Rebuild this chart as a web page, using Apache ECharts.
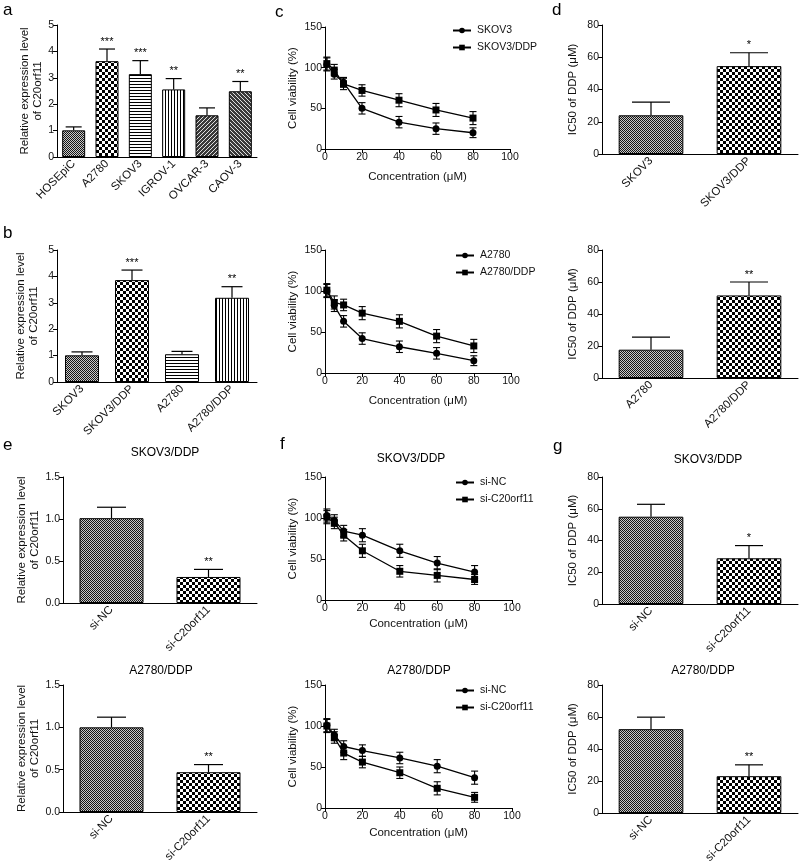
<!DOCTYPE html>
<html><head><meta charset="utf-8">
<script src="https://cdn.jsdelivr.net/npm/echarts@6/dist/echarts.min.js"></script>
<style>html,body{margin:0;padding:0;background:#fff}#c{width:800px;height:867px}</style>
</head><body><div id="c"></div><script>
// ---------------- data ----------------
const aCats = ['HOSEpiC', 'A2780', 'SKOV3', 'IGROV-1', 'OVCAR-3', 'CAOV-3'];
const aVals = [1.01, 3.63, 3.14, 2.56, 1.58, 2.49];
const aErrs = [0.13, 0.46, 0.51, 0.41, 0.28, 0.37];
const aStars = ['', '***', '***', '**', '', '**'];

const bCats = ['SKOV3', 'SKOV3/DDP', 'A2780', 'A2780/DDP'];
const bVals = [1.01, 3.86, 1.05, 3.19];
const bErrs = [0.13, 0.38, 0.11, 0.42];
const bStars = ['', '***', '', '**'];

const concX = [1, 5, 10, 20, 40, 60, 80];
const cSkov3 = [104, 92, 82, 50, 33, 25, 20];
const cSkov3Err = [8, 6, 6, 7, 7, 7, 6];
const cSkov3Ddp = [105, 97, 80, 72, 60, 48, 38];
const cSkov3DdpErr = [8, 7, 7, 7, 8, 8, 8];
const cA2780 = [100, 82, 63, 42, 32, 24, 15];
const cA2780Err = [8, 7, 7, 7, 7, 7, 6];
const cA2780Ddp = [101, 86, 83, 73, 63, 45, 33];
const cA2780DdpErr = [8, 8, 7, 8, 8, 8, 8];

const d1Cats = ['SKOV3', 'SKOV3/DDP'];
const d1Vals = [24, 54.5];
const d1Errs = [8.2, 8.3];
const d1Stars = ['', '*'];
const d2Cats = ['A2780', 'A2780/DDP'];
const d2Vals = [17.7, 51.6];
const d2Errs = [7.9, 8.4];
const d2Stars = ['', '**'];

const siCats = ['si-NC', 'si-C20orf11'];
const e1Vals = [1.01, 0.31];
const e1Errs = [0.13, 0.09];
const e1Stars = ['', '**'];
const e2Vals = [1.00, 0.47];
const e2Errs = [0.12, 0.09];
const e2Stars = ['', '**'];

const f1Nc = [103, 97, 84, 79, 60, 45, 34];
const f1NcErr = [8, 7, 7, 8, 8, 8, 8];
const f1Si = [101, 94, 79, 60, 35, 30, 25];
const f1SiErr = [8, 7, 7, 8, 7, 8, 6];
const f2Nc = [101, 89, 75, 70, 61, 51, 37];
const f2NcErr = [8, 7, 7, 7, 7, 8, 8];
const f2Si = [100, 86, 67, 56, 43, 24, 13];
const f2SiErr = [8, 7, 8, 7, 7, 8, 6];

const g1Vals = [55, 28.8];
const g1Errs = [7.8, 8];
const g1Stars = ['', '*'];
const g2Vals = [52.4, 23];
const g2Errs = [7.5, 7.1];
const g2Stars = ['', '**'];

// ---------------- styling helpers ----------------
const FONT = "'Liberation Sans', Arial, sans-serif";
const INK = '#111';

function makePattern(kind) {
  const c = document.createElement('canvas');
  let ctx;
  if (kind === 'fine') {
    c.width = 2; c.height = 2; ctx = c.getContext('2d');
    ctx.fillStyle = '#c8c8c8'; ctx.fillRect(0, 0, 2, 2);
    ctx.fillStyle = '#151515'; ctx.fillRect(0, 0, 1, 1); ctx.fillRect(1, 1, 1, 1);
  } else if (kind === 'coarse') {
    c.width = 6; c.height = 6; ctx = c.getContext('2d');
    ctx.fillStyle = '#fff'; ctx.fillRect(0, 0, 6, 6);
    ctx.fillStyle = '#000'; ctx.fillRect(0, 0, 3, 3); ctx.fillRect(3, 3, 3, 3);
  } else if (kind === 'hline') {
    c.width = 3; c.height = 3; ctx = c.getContext('2d');
    ctx.fillStyle = '#fff'; ctx.fillRect(0, 0, 3, 3);
    ctx.fillStyle = '#000'; ctx.fillRect(0, 0, 3, 1);
  } else if (kind === 'vline') {
    c.width = 3; c.height = 3; ctx = c.getContext('2d');
    ctx.fillStyle = '#fff'; ctx.fillRect(0, 0, 3, 3);
    ctx.fillStyle = '#000'; ctx.fillRect(0, 0, 1, 3);
  } else {
    c.width = 4; c.height = 4; ctx = c.getContext('2d');
    ctx.fillStyle = '#3a3a3a'; ctx.fillRect(0, 0, 4, 4);
    ctx.fillStyle = '#e0e0e0';
    for (let i = 0; i < 4; i++) ctx.fillRect(kind === 'diag1' ? 3 - i : i, i, 1, 1);
  }
  return { image: c, repeat: 'repeat' };
}
const PAT = {};
['fine', 'coarse', 'hline', 'vline', 'diag1', 'diag2'].forEach(k => PAT[k] = makePattern(k));

const grids = [], xAxes = [], yAxes = [], series = [], legends = [], graphics = [];

function yAxisBase(i, min, max, interval, name, gap, fmt) {
  return {
    gridIndex: i, type: 'value', min: min, max: max, interval: interval,
    axisLine: { show: true, lineStyle: { color: '#000', width: 1 } },
    axisTick: { show: true, length: 4, lineStyle: { color: '#000' } },
    splitLine: { show: false },
    axisLabel: { fontSize: 10.5, color: INK, margin: 3, fontFamily: FONT, formatter: fmt },
    name: name, nameLocation: 'middle', nameGap: gap,
    nameTextStyle: { fontSize: 11.5, color: INK, lineHeight: 13, fontFamily: FONT }
  };
}

function addBarPanel(cfg) {
  const i = grids.length;
  grids.push({ left: cfg.box[0], top: cfg.box[1], width: cfg.box[2], height: cfg.box[3] });
  xAxes.push({
    gridIndex: i, type: 'category', data: cfg.cats,
    axisLine: { lineStyle: { color: '#000', width: 1 } }, axisTick: { show: false },
    axisLabel: { rotate: 45, fontSize: 11.5, color: INK, margin: 5, interval: 0, fontFamily: FONT }
  });
  yAxes.push(yAxisBase(i, 0, cfg.yMax, cfg.yInt, cfg.yName, cfg.nameGap, cfg.fmt));
  series.push({
    type: 'bar', xAxisIndex: i, yAxisIndex: i, barWidth: cfg.barW, silent: true,
    itemStyle: { borderColor: '#000', borderWidth: 1 },
    data: cfg.vals.map((v, k) => ({ value: v, itemStyle: { color: PAT[cfg.pats[k]] } }))
  });
  const stars = cfg.stars, capHalf = cfg.capW / 2;
  series.push({
    type: 'custom', xAxisIndex: i, yAxisIndex: i, z: 5, silent: true,
    data: cfg.vals.map((v, k) => [k, v, cfg.errs[k]]),
    renderItem: function (params, api) {
      const x = api.value(0), v = api.value(1), e = api.value(2);
      const p0 = api.coord([x, v]), p1 = api.coord([x, v + e]);
      const st = { stroke: '#000', lineWidth: 1.2 };
      const ch = [
        { type: 'line', shape: { x1: p0[0], y1: p0[1], x2: p1[0], y2: p1[1] }, style: st },
        { type: 'line', shape: { x1: p1[0] - capHalf, y1: p1[1], x2: p1[0] + capHalf, y2: p1[1] }, style: st }
      ];
      const s = stars[params.dataIndex];
      if (s) ch.push({ type: 'text', x: p1[0], y: p1[1] - 2,
        style: { text: s, fontSize: 11, fontFamily: FONT, fill: '#000', align: 'center', verticalAlign: 'bottom' } });
      return { type: 'group', children: ch };
    }
  });
}

function addLinePanel(cfg) {
  const i = grids.length;
  grids.push({ left: cfg.box[0], top: cfg.box[1], width: cfg.box[2], height: cfg.box[3] });
  xAxes.push({
    gridIndex: i, type: 'value', min: 0, max: 100, interval: 20,
    axisLine: { lineStyle: { color: '#000', width: 1 } },
    axisTick: { show: true, length: 4, lineStyle: { color: '#000' } },
    splitLine: { show: false },
    axisLabel: { fontSize: 10.5, color: INK, margin: 3, fontFamily: FONT },
    name: 'Concentration (μM)', nameLocation: 'middle', nameGap: cfg.xGap,
    nameTextStyle: { fontSize: 11.5, color: INK, fontFamily: FONT }
  });
  yAxes.push(yAxisBase(i, 0, 150, 50, 'Cell viability (%)', 26));
  cfg.series.forEach(s => {
    series.push({
      name: s.name, type: 'line', xAxisIndex: i, yAxisIndex: i, symbol: s.symbol, symbolSize: 7,
      lineStyle: { color: '#000', width: 1.3 }, itemStyle: { color: '#000' }, z: 4,
      data: concX.map((x, k) => [x, s.vals[k]])
    });
    series.push({
      type: 'custom', xAxisIndex: i, yAxisIndex: i, z: 3, silent: true,
      data: concX.map((x, k) => [x, s.vals[k], s.errs[k]]),
      renderItem: function (params, api) {
        const x = api.value(0), v = api.value(1), e = api.value(2);
        const lo = api.coord([x, v - e]), hi = api.coord([x, v + e]);
        const st = { stroke: '#000', lineWidth: 1.1 };
        return { type: 'group', children: [
          { type: 'line', shape: { x1: lo[0], y1: lo[1], x2: hi[0], y2: hi[1] }, style: st },
          { type: 'line', shape: { x1: lo[0] - 3.5, y1: lo[1], x2: lo[0] + 3.5, y2: lo[1] }, style: st },
          { type: 'line', shape: { x1: hi[0] - 3.5, y1: hi[1], x2: hi[0] + 3.5, y2: hi[1] }, style: st }
        ] };
      }
    });
  });
  legends.push({
    data: cfg.series.map(s => s.name), orient: 'vertical', left: cfg.legend[0], top: cfg.legend[1],
    itemWidth: 18, itemHeight: 7, itemGap: 6, selectedMode: false,
    textStyle: { fontSize: 10.5, color: INK, fontFamily: FONT, padding: [0, 0, 0, 1] }
  });
}

function addText(text, x, y, size, align) {
  graphics.push({ type: 'text', x: x, y: y, silent: true,
    style: { text: text, fontSize: size, fontFamily: FONT, fill: '#000', align: align || 'center', verticalAlign: 'middle' } });
}

// ---------------- panels ----------------
const relName = 'Relative expression level\nof C20orf11';
const icName = 'IC50 of DDP (μM)';
const fmt1 = v => v.toFixed(1);

addBarPanel({ box: [57, 25, 200, 132], cats: aCats, vals: aVals, errs: aErrs, stars: aStars,
  pats: ['fine', 'coarse', 'hline', 'vline', 'diag1', 'diag2'], yMax: 5, yInt: 1, yName: relName, nameGap: 13, barW: '69%', capW: 16 });
addBarPanel({ box: [57, 250, 200, 132], cats: bCats, vals: bVals, errs: bErrs, stars: bStars,
  pats: ['fine', 'coarse', 'hline', 'vline'], yMax: 5, yInt: 1, yName: relName, nameGap: 17, barW: '68%', capW: 21 });
addLinePanel({ box: [325, 27, 185, 122], xGap: 22, legend: [447, 20], series: [
  { name: 'SKOV3', symbol: 'circle', vals: cSkov3, errs: cSkov3Err },
  { name: 'SKOV3/DDP', symbol: 'rect', vals: cSkov3Ddp, errs: cSkov3DdpErr }] });
addLinePanel({ box: [325, 250, 186, 123], xGap: 22, legend: [450, 245], series: [
  { name: 'A2780', symbol: 'circle', vals: cA2780, errs: cA2780Err },
  { name: 'A2780/DDP', symbol: 'rect', vals: cA2780Ddp, errs: cA2780DdpErr }] });
addBarPanel({ box: [602, 25, 196, 129], cats: d1Cats, vals: d1Vals, errs: d1Errs, stars: d1Stars,
  pats: ['fine', 'coarse'], yMax: 80, yInt: 20, yName: icName, nameGap: 23, barW: '66%', capW: 38 });
addBarPanel({ box: [602, 250, 196, 128], cats: d2Cats, vals: d2Vals, errs: d2Errs, stars: d2Stars,
  pats: ['fine', 'coarse'], yMax: 80, yInt: 20, yName: icName, nameGap: 23, barW: '66%', capW: 38 });
addBarPanel({ box: [63, 477, 194, 126], cats: siCats, vals: e1Vals, errs: e1Errs, stars: e1Stars,
  pats: ['fine', 'coarse'], yMax: 1.5, yInt: 0.5, yName: relName, nameGap: 22, barW: '66%', capW: 29, fmt: fmt1 });
addBarPanel({ box: [63, 685, 194, 127], cats: siCats, vals: e2Vals, errs: e2Errs, stars: e2Stars,
  pats: ['fine', 'coarse'], yMax: 1.5, yInt: 0.5, yName: relName, nameGap: 22, barW: '66%', capW: 29, fmt: fmt1 });
addLinePanel({ box: [325, 477, 187, 123], xGap: 18, legend: [450, 472], series: [
  { name: 'si-NC', symbol: 'circle', vals: f1Nc, errs: f1NcErr },
  { name: 'si-C20orf11', symbol: 'rect', vals: f1Si, errs: f1SiErr }] });
addLinePanel({ box: [325, 685, 187, 123], xGap: 19, legend: [450, 680], series: [
  { name: 'si-NC', symbol: 'circle', vals: f2Nc, errs: f2NcErr },
  { name: 'si-C20orf11', symbol: 'rect', vals: f2Si, errs: f2SiErr }] });
addBarPanel({ box: [602, 477, 196, 127], cats: siCats, vals: g1Vals, errs: g1Errs, stars: g1Stars,
  pats: ['fine', 'coarse'], yMax: 80, yInt: 20, yName: icName, nameGap: 23, barW: '66%', capW: 28 });
addBarPanel({ box: [602, 685, 196, 128], cats: siCats, vals: g2Vals, errs: g2Errs, stars: g2Stars,
  pats: ['fine', 'coarse'], yMax: 80, yInt: 20, yName: icName, nameGap: 23, barW: '66%', capW: 28 });

// panel titles
addText('SKOV3/DDP', 165, 453, 12);
addText('A2780/DDP', 161, 671, 12);
addText('SKOV3/DDP', 411, 459, 12);
addText('A2780/DDP', 419, 671, 12);
addText('SKOV3/DDP', 708, 460, 12);
addText('A2780/DDP', 703, 671, 12);
// panel letters
addText('a', 3, 10, 17, 'left');
addText('b', 3, 233, 17, 'left');
addText('c', 275, 12, 17, 'left');
addText('d', 552, 10, 17, 'left');
addText('e', 3, 445, 17, 'left');
addText('f', 280, 444, 17, 'left');
addText('g', 553, 446, 17, 'left');

const chart = echarts.init(document.getElementById('c'), null, { renderer: 'canvas' });
chart.setOption({
  animation: false,
  backgroundColor: '#fff',
  textStyle: { fontFamily: FONT },
  grid: grids, xAxis: xAxes, yAxis: yAxes, series: series, legend: legends, graphic: graphics
});
</script></body></html>
